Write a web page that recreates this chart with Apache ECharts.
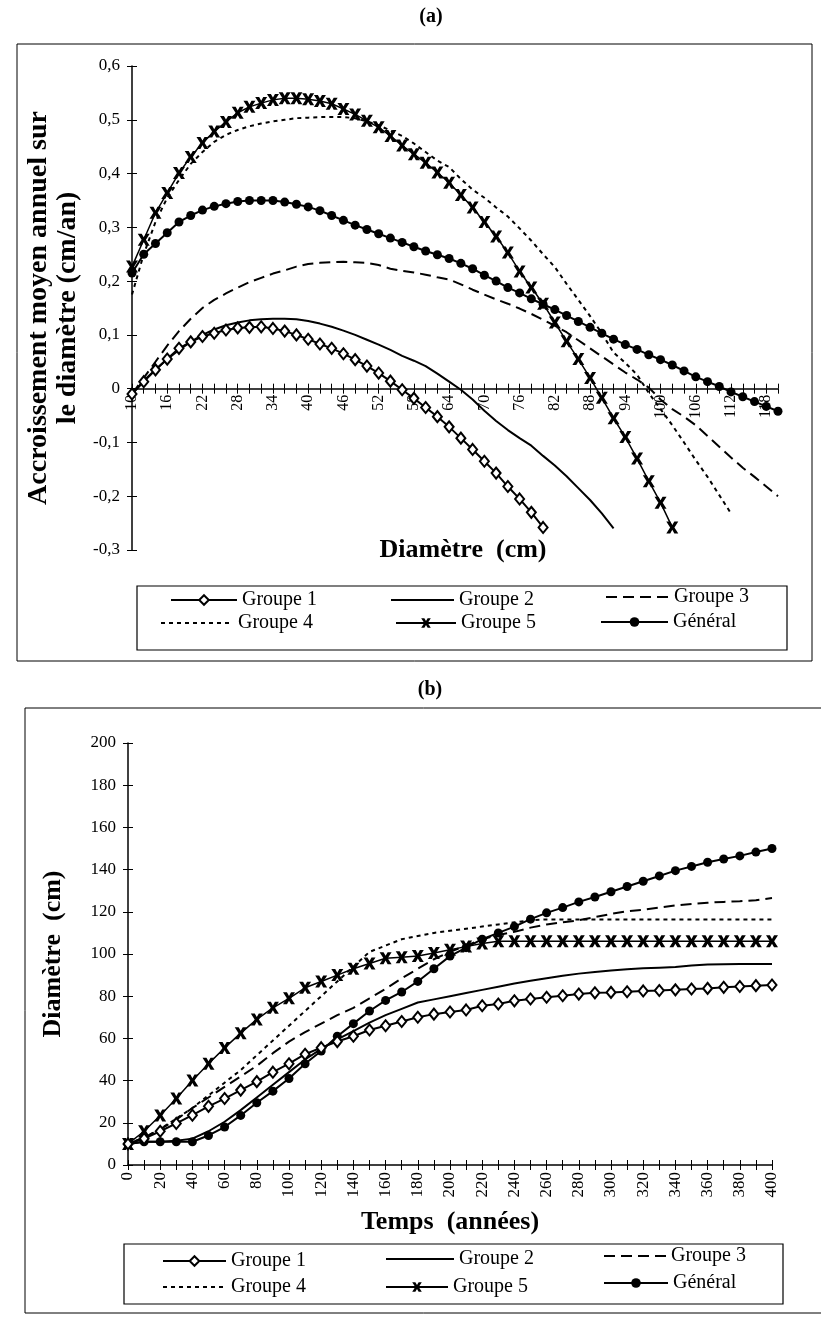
<!DOCTYPE html>
<html><head><meta charset="utf-8">
<script src="https://cdn.jsdelivr.net/npm/echarts@6/dist/echarts.min.js"></script>
<style>html,body{margin:0;padding:0;background:#fff}#c{width:821px;height:1317px}</style>
</head><body><div id="c"></div>
<script>
// ---------- Chart (a): diameter classes (cm) ----------
const diamA = [10,12,14,16,18,20,22,24,26,28,30,32,34,36,38,40,42,44,46,48,50,52,54,56,58,60,62,64,66,68,70,72,74,76,78,80,82,84,86,88,90,92,94,96,98,100,102,104,106,108,110,112,114,116,118,120];
const a_g1 = [-0.01,0.013,0.035,0.055,0.075,0.087,0.097,0.103,0.109,0.113,0.114,0.115,0.112,0.107,0.1,0.092,0.083,0.075,0.065,0.054,0.042,0.029,0.014,-0.002,-0.018,-0.035,-0.052,-0.071,-0.092,-0.113,-0.135,-0.157,-0.182,-0.205,-0.23,-0.258];
const a_g2 = [-0.01,0.015,0.035,0.055,0.072,0.087,0.1,0.11,0.118,0.123,0.127,0.129,0.13,0.13,0.129,0.126,0.121,0.115,0.108,0.1,0.091,0.082,0.072,0.061,0.052,0.042,0.028,0.013,-0.002,-0.02,-0.041,-0.06,-0.077,-0.092,-0.106,-0.125,-0.143,-0.163,-0.185,-0.207,-0.232,-0.26];
const a_g3 = [-0.01,0.02,0.05,0.08,0.107,0.13,0.15,0.165,0.177,0.188,0.198,0.206,0.214,0.22,0.227,0.232,0.234,0.235,0.236,0.235,0.234,0.23,0.223,0.219,0.216,0.212,0.207,0.203,0.194,0.184,0.175,0.166,0.158,0.149,0.139,0.128,0.117,0.105,0.09,0.075,0.06,0.045,0.03,0.017,0.002,-0.02,-0.038,-0.052,-0.068,-0.088,-0.108,-0.128,-0.147,-0.164,-0.182,-0.2];
const a_g4 = [0.175,0.25,0.31,0.355,0.388,0.418,0.44,0.459,0.472,0.481,0.488,0.493,0.497,0.5,0.503,0.504,0.505,0.505,0.505,0.503,0.497,0.49,0.48,0.47,0.456,0.44,0.424,0.412,0.39,0.37,0.355,0.337,0.32,0.298,0.275,0.25,0.226,0.195,0.165,0.135,0.103,0.067,0.048,0.026,-0.008,-0.038,-0.068,-0.1,-0.133,-0.164,-0.198,-0.232];
const a_g5 = [0.227,0.277,0.327,0.364,0.401,0.431,0.457,0.478,0.496,0.513,0.524,0.531,0.537,0.54,0.54,0.538,0.535,0.53,0.52,0.51,0.498,0.486,0.47,0.452,0.436,0.42,0.402,0.383,0.36,0.337,0.31,0.283,0.253,0.218,0.188,0.158,0.123,0.088,0.055,0.02,-0.017,-0.055,-0.09,-0.13,-0.172,-0.212,-0.258];
const a_gen = [0.215,0.25,0.27,0.29,0.31,0.322,0.332,0.339,0.344,0.348,0.35,0.35,0.35,0.347,0.343,0.338,0.331,0.322,0.313,0.304,0.296,0.288,0.28,0.272,0.264,0.256,0.249,0.242,0.233,0.223,0.211,0.2,0.188,0.178,0.167,0.157,0.147,0.136,0.125,0.114,0.103,0.092,0.082,0.073,0.063,0.054,0.044,0.033,0.022,0.013,0.004,-0.006,-0.015,-0.024,-0.033,-0.042];

// ---------- Chart (b): time (years) ----------
const timeB = [0,10,20,30,40,50,60,70,80,90,100,110,120,130,140,150,160,170,180,190,200,210,220,230,240,250,260,270,280,290,300,310,320,330,340,350,360,370,380,390,400];
const b_g1 = [10,12.5,16,19.7,23.6,27.8,31.5,35.5,39.5,44,48,52.5,55.6,58.5,61,64,66,68,70,71.5,72.5,73.5,75.5,76.3,77.8,78.7,79.5,80.2,81,81.6,81.8,82.1,82.5,82.7,83,83.4,83.7,84.2,84.6,85,85.3];
const b_g2 = [10,11,11,11.5,12.5,16,20.5,26,32,38,44,50,55,59.5,63.5,67.5,71,74,77,78.5,80,81.5,83,84.5,86,87.3,88.5,89.7,90.7,91.5,92.2,92.8,93.2,93.5,93.8,94.5,95,95.2,95.3,95.3,95.3];
const b_g3 = [10,13,17,21.5,27,32,37,42,47,53,58.5,63,67,71,74.5,79,83.5,88.5,93,97.5,101,104,107,109,110.5,112.5,114,115,116,117.5,119,120.3,121,122,123,123.7,124.3,124.7,125,125.5,126.5];
const b_g4 = [10,13,17,22,27,33,39,45,52,59,66,73,80,87,94,101,104,107,108.5,110,111,112,113,114,115,116,116.4,116.4,116.4,116.4,116.4,116.4,116.4,116.4,116.4,116.4,116.4,116.4,116.4,116.4,116.4];
const b_g5 = [10,16,23.5,31.5,40,48,55.5,62.5,69,74.5,79,84,87,90,93,95.5,98,98.5,99,100.5,102,103.5,105,106,106,106,106,106,106,106,106,106,106,106,106,106,106,106,106,106,106];
const b_gen = [10,11,11,11,11,14,18,23.5,29.5,35,41,48,54,61,67,73,78,82,87,93,99,103,107,110,113,116.5,119.5,122,124.7,127,129.5,132,134.5,137,139.5,141.5,143.5,145,146.5,148.3,150];

const names = ['Groupe 1','Groupe 2','Groupe 3','Groupe 4','Groupe 5','Général'];

const F = 'Liberation Serif';
const BLK = '#000';
const XSYM = 'path://M0,0 L3.3,0 L5,3 L6.7,0 L10,0 L6.8,5 L10,10 L6.7,10 L5,7 L3.3,10 L0,10 L3.2,5 Z';
const fmtA = v => Math.abs(v) < 1e-9 ? '0' : v.toFixed(1).replace('.', ',');

// grid (a): y range -0.3..0.6 over 484 px; the x axis sits on y = 0
const GA_TOP = 66, GA_H = 484, YA_MIN = -0.3, YA_MAX = 0.6;
const ZERO_OFF_A = -GA_H * (0 - YA_MIN) / (YA_MAX - YA_MIN);

function styleFor(i, ax, ay, data) {
  const base = {type:'line', name:names[i], data:data, xAxisIndex:ax, yAxisIndex:ay,
    animation:false, showAllSymbol:true, symbol:'none', z: 2 + i,
    lineStyle:{color:BLK, width:2, type:'solid'}, itemStyle:{color:BLK}};
  if (i === 0) { base.symbol = 'diamond'; base.symbolSize = [9,11];
    base.itemStyle = {color:'#fff', borderColor:BLK, borderWidth:2}; base.z = 8; }
  if (i === 2) base.lineStyle.type = [11,6];
  if (i === 3) base.lineStyle.type = [4,4];
  if (i === 4) { base.symbol = XSYM; base.symbolSize = 12; base.lineStyle.width = 1.5; }
  if (i === 5) { base.symbol = 'circle'; base.symbolSize = 9; }
  return base;
}

const seriesA = [a_g1,a_g2,a_g3,a_g4,a_g5,a_gen].map((d,i)=>styleFor(i,0,0,d));
const seriesB = [b_g1,b_g2,b_g3,b_g4,b_g5,b_gen].map((d,i)=>styleFor(i,2,2,d));

const tickLbl = {fontFamily:F, fontSize:17, color:BLK};
const axLine = {lineStyle:{color:BLK, width:1.5}};

function legendItem(name, left, top, w) {
  const noSym = (name === 'Groupe 2' || name === 'Groupe 3' || name === 'Groupe 4');
  const o = {data:[name], left:left, top:top, orient:'horizontal', padding:0, itemWidth:w, itemHeight:12,
    selectedMode:false, textStyle:{fontFamily:F, fontSize:20, color:BLK, lineHeight:20}};
  if (noSym) o.itemStyle = {opacity:0};
  return o;
}

const titleStyle = {fontFamily:F, fontWeight:'bold', fontSize:26, color:BLK};

const option = {
  backgroundColor:'#fff',
  animation:false,
  grid:[
    {left:132, top:GA_TOP, right:43, height:GA_H, outerBoundsMode:'none'},
    {left:128, top:743, right:49, height:422, outerBoundsMode:'none'}
  ],
  xAxis:[
    {type:'category', gridIndex:0, data:diamA, boundaryGap:false, position:'bottom', offset:ZERO_OFF_A,
     axisLine:{onZero:false, lineStyle:{color:BLK, width:1.5}},
     axisTick:{interval:0, length:5, lineStyle:{color:BLK}},
     axisLabel:Object.assign({interval:2, rotate:90, margin:6}, tickLbl, {fontSize:16}),
     splitLine:{show:false}},
    {type:'category', gridIndex:0, data:diamA, boundaryGap:false, position:'bottom', offset:ZERO_OFF_A,
     axisLine:{show:false, onZero:false}, axisTick:{inside:true, interval:0, length:5, lineStyle:{color:BLK}},
     axisLabel:{show:false}, splitLine:{show:false}},
    {type:'category', gridIndex:1, data:timeB, boundaryGap:false,
     axisLine:{onZero:true, lineStyle:{color:BLK, width:1.5}},
     axisTick:{interval:0, length:5, lineStyle:{color:BLK}},
     axisLabel:Object.assign({interval:1, rotate:90, margin:7}, tickLbl),
     splitLine:{show:false},
     name:'Temps  (années)', nameLocation:'middle', nameGap:44, nameTextStyle:titleStyle},
    {type:'category', gridIndex:1, data:timeB, boundaryGap:false, position:'bottom',
     axisLine:{show:false, onZero:true}, axisTick:{inside:true, interval:0, length:5, lineStyle:{color:BLK}},
     axisLabel:{show:false}, splitLine:{show:false}}
  ],
  yAxis:[
    {type:'value', gridIndex:0, min:YA_MIN, max:YA_MAX, interval:0.1, position:'left',
     axisLine:Object.assign({show:true}, axLine), axisTick:{show:true, length:5, lineStyle:{color:BLK}},
     axisLabel:Object.assign({formatter:fmtA, margin:12}, tickLbl), splitLine:{show:false},
     name:'Accroissement moyen annuel sur\nle diamètre (cm/an)', nameLocation:'middle', nameRotate:90, nameGap:39,
     nameTextStyle:{fontFamily:F, fontWeight:'bold', fontSize:28, lineHeight:29, color:BLK}},
    {type:'value', gridIndex:0, min:YA_MIN, max:YA_MAX, interval:0.1, position:'left',
     axisLine:{show:false}, axisTick:{show:true, inside:true, length:5, lineStyle:{color:BLK}},
     axisLabel:{show:false}, splitLine:{show:false}},
    {type:'value', gridIndex:1, min:0, max:200, interval:20, position:'left',
     axisLine:Object.assign({show:true}, axLine), axisTick:{show:true, length:5, lineStyle:{color:BLK}},
     axisLabel:Object.assign({margin:12}, tickLbl), splitLine:{show:false},
     name:'Diamètre  (cm)', nameLocation:'middle', nameRotate:90, nameGap:62, nameTextStyle:titleStyle},
    {type:'value', gridIndex:1, min:0, max:200, interval:20, position:'left',
     axisLine:{show:false}, axisTick:{show:true, inside:true, length:5, lineStyle:{color:BLK}},
     axisLabel:{show:false}, splitLine:{show:false}}
  ],
  legend:[
    legendItem('Groupe 1',170,590,66), legendItem('Groupe 2',390,590,63), legendItem('Groupe 3',605,587,63),
    legendItem('Groupe 4',160,613,72), legendItem('Groupe 5',395,613,60), legendItem('Général',600,612,67),
    legendItem('Groupe 1',162,1251,63), legendItem('Groupe 2',385,1249,68), legendItem('Groupe 3',603,1246,62),
    legendItem('Groupe 4',162,1277,63), legendItem('Groupe 5',385,1277,62), legendItem('Général',603,1273,64)
  ],
  graphic:[
    {type:'rect', shape:{x:17, y:44, width:795, height:617}, style:{fill:'none', stroke:BLK, lineWidth:1}, silent:true},
    {type:'rect', shape:{x:25, y:708, width:800, height:605}, style:{fill:'none', stroke:BLK, lineWidth:1}, silent:true},
    {type:'rect', shape:{x:137, y:586, width:650, height:64}, style:{fill:'none', stroke:BLK, lineWidth:1.2}, silent:true},
    {type:'rect', shape:{x:124, y:1244, width:659, height:60}, style:{fill:'none', stroke:BLK, lineWidth:1.2}, silent:true},
    {type:'text', x:431, y:17, style:{text:'(a)', fontFamily:F, fontWeight:'bold', fontSize:20, fill:BLK, textAlign:'center', textVerticalAlign:'middle'}},
    {type:'text', x:430, y:690, style:{text:'(b)', fontFamily:F, fontWeight:'bold', fontSize:20, fill:BLK, textAlign:'center', textVerticalAlign:'middle'}},
    {type:'text', x:463, y:550, style:{text:'Diamètre  (cm)', fontFamily:F, fontWeight:'bold', fontSize:26, fill:BLK, textAlign:'center', textVerticalAlign:'middle'}}
  ],
  series: seriesA.concat(seriesB)
};
const chart = echarts.init(document.getElementById('c'));
chart.setOption(option);
</script>
</body></html>
